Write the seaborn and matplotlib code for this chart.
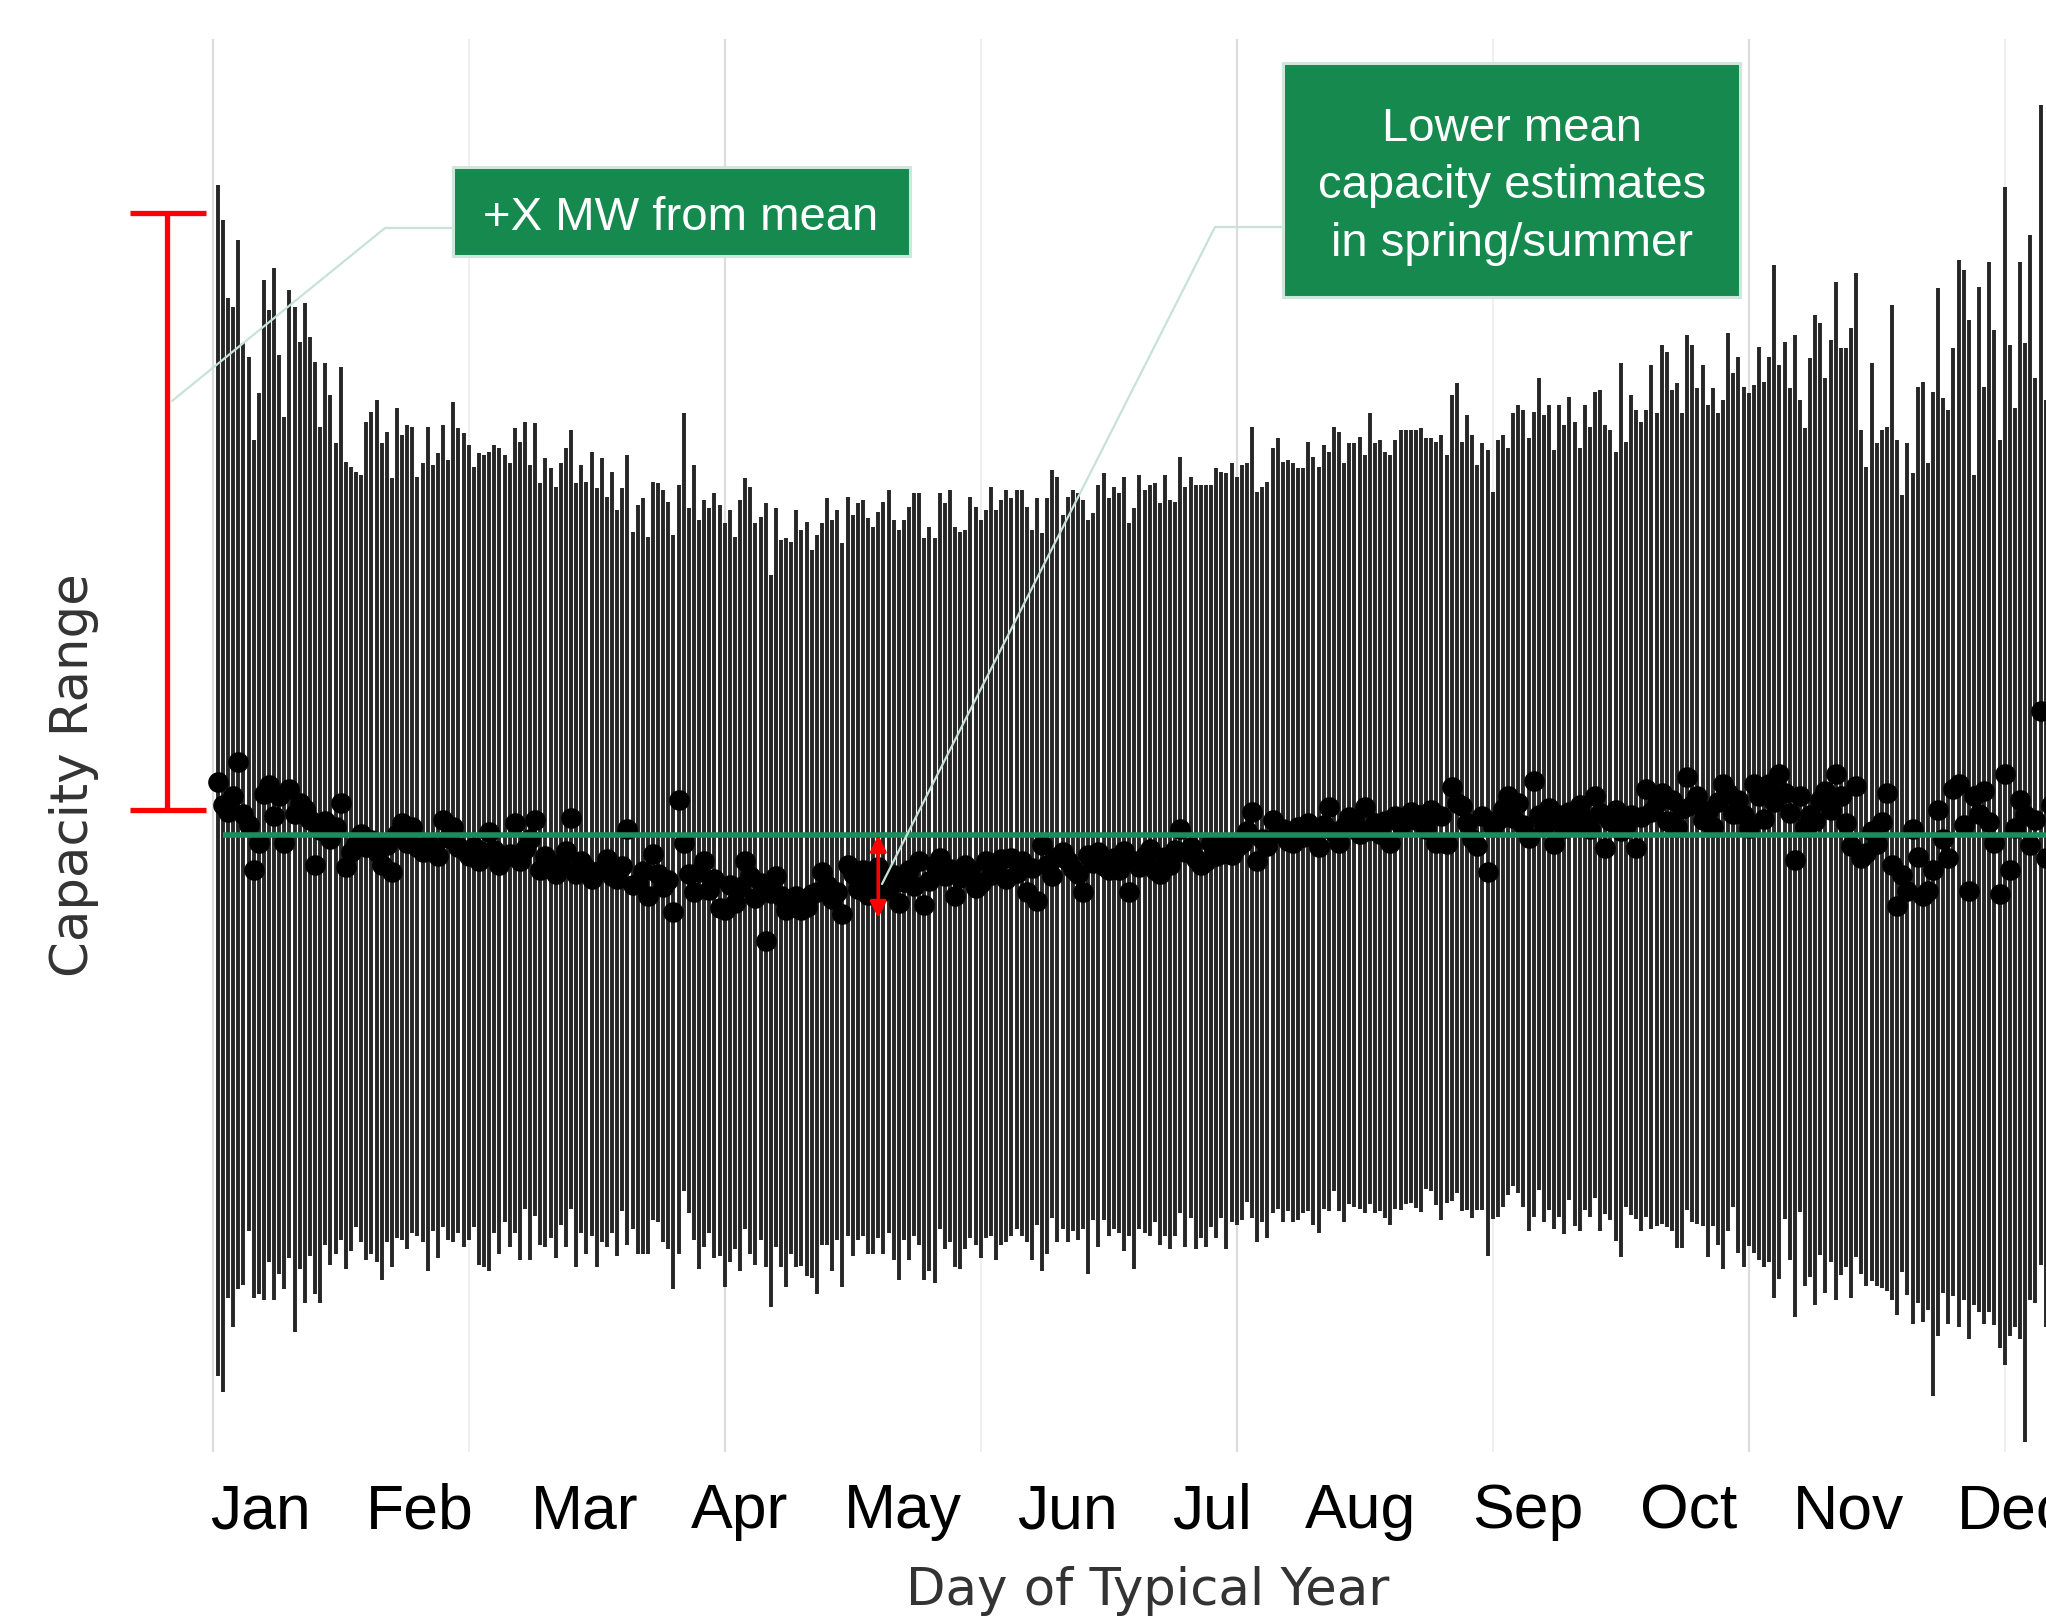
import numpy as np
import pandas as pd
import matplotlib
matplotlib.use("Agg")
import matplotlib.pyplot as plt
from matplotlib.patches import Rectangle
from matplotlib.lines import Line2D
import seaborn as sns

# capacity range per day of the typical year, as offsets from the overall mean
upper = [
    65.0, 61.5, 53.7, 52.8, 59.5, 49.2, 47.8, 39.5, 44.2, 55.5,
    52.5, 56.7, 48.0, 41.8, 54.5, 52.8, 49.3, 53.2, 49.8, 47.3,
    40.8, 47.2, 44.0, 39.2, 46.8, 37.3, 36.8, 36.3, 36.0, 41.3,
    42.3, 43.5, 39.2, 40.3, 35.7, 42.7, 40.0, 41.0, 40.8, 35.8,
    37.2, 40.8, 37.0, 38.2, 41.0, 37.5, 43.3, 40.7, 40.2, 39.0,
    36.8, 38.2, 38.0, 38.3, 39.0, 38.7, 38.0, 37.2, 40.7, 39.3,
    41.3, 37.0, 41.2, 35.2, 37.7, 36.7, 34.8, 37.2, 38.7, 40.5,
    35.2, 37.0, 35.3, 38.3, 34.7, 37.7, 33.8, 36.3, 32.5, 34.7,
    38.0, 30.3, 33.0, 33.7, 29.8, 35.3, 35.2, 34.5, 33.3, 30.0,
    35.0, 42.2, 32.7, 37.0, 31.5, 33.5, 32.7, 34.2, 33.0, 31.2,
    32.5, 29.8, 33.5, 35.7, 34.8, 31.2, 31.8, 33.2, 26.0, 32.7,
    29.5, 29.7, 29.3, 32.5, 30.5, 31.3, 28.5, 30.0, 31.2, 33.7,
    31.5, 32.5, 29.2, 33.8, 32.0, 33.2, 33.5, 31.7, 30.8, 32.3,
    33.3, 34.5, 31.5, 30.5, 31.5, 32.8, 34.2, 34.2, 29.7, 30.8,
    29.7, 34.2, 33.2, 34.5, 30.8, 30.3, 30.5, 33.8, 32.8, 31.5,
    32.5, 34.8, 32.5, 33.5, 34.5, 33.7, 34.5, 34.5, 32.8, 30.5,
    33.7, 30.2, 33.7, 36.5, 35.8, 32.0, 33.8, 34.5, 34.2, 33.5,
    31.5, 32.2, 35.0, 36.2, 33.7, 34.8, 34.2, 35.8, 31.2, 32.7,
    36.0, 34.5, 35.0, 35.2, 33.2, 36.0, 33.5, 33.3, 37.8, 34.8,
    35.8, 35.0, 35.0, 35.0, 35.0, 36.7, 36.3, 36.2, 37.2, 35.8,
    37.0, 37.2, 40.8, 34.3, 34.8, 35.3, 38.7, 39.7, 37.3, 37.5,
    37.2, 36.7, 36.7, 39.3, 37.8, 36.8, 39.0, 38.3, 40.8, 40.3,
    37.2, 39.2, 39.2, 39.8, 38.0, 42.2, 39.2, 39.5, 38.3, 38.0,
    39.5, 40.5, 40.5, 40.5, 40.5, 40.7, 39.7, 39.7, 39.3, 40.0,
    38.0, 44.0, 45.2, 39.3, 42.0, 40.0, 37.0, 39.2, 38.5, 34.3,
    39.5, 40.0, 38.7, 42.2, 43.0, 42.5, 39.7, 42.3, 45.7, 42.0,
    43.0, 38.5, 43.0, 41.0, 43.8, 41.3, 38.7, 43.0, 40.8, 44.3,
    44.5, 41.0, 40.5, 38.3, 47.2, 39.3, 44.0, 42.5, 41.3, 42.5,
    47.0, 42.2, 49.0, 48.3, 44.5, 45.2, 42.2, 50.0, 49.0, 44.7,
    47.0, 43.0, 44.7, 42.2, 43.5, 50.2, 46.2, 47.8, 44.8, 44.2,
    45.0, 48.8, 45.3, 47.8, 57.0, 47.0, 49.3, 44.7, 50.0, 43.5,
    40.7, 47.7, 52.0, 51.2, 45.7, 49.5, 55.3, 48.7, 48.7, 50.7,
    56.2, 40.5, 36.8, 47.2, 39.2, 40.5, 40.8, 53.0, 39.5, 34.0,
    39.2, 36.2, 44.8, 45.3, 37.2, 44.3, 54.7, 43.7, 42.5, 48.7,
    57.5, 56.5, 51.5, 36.0, 54.8, 44.8, 57.3, 50.5, 39.5, 64.8,
    49.0, 42.7, 57.3, 49.2, 60.0, 45.7, 73.0, 43.5, 52.0, 61.0,
    47.0, 55.0, 68.0, 49.0, 53.0,
]

lower = [
    -54.1, -55.7, -46.3, -49.2, -45.4, -45.0, -39.6, -46.3, -45.9, -46.5,
    -42.7, -46.5, -43.9, -45.4, -42.3, -49.7, -43.4, -46.8, -42.1, -45.9,
    -46.8, -41.0, -43.0, -41.9, -40.5, -43.4, -41.6, -39.2, -40.7, -42.5,
    -41.9, -42.7, -44.5, -40.7, -43.2, -40.3, -40.5, -41.4, -39.8, -40.1,
    -40.7, -43.6, -39.6, -42.3, -39.2, -40.5, -40.7, -39.8, -41.2, -40.5,
    -39.2, -43.0, -43.2, -43.6, -39.8, -41.9, -38.7, -41.2, -39.8, -42.5,
    -37.4, -42.5, -38.1, -41.0, -41.2, -40.3, -42.3, -39.0, -41.2, -37.4,
    -43.2, -39.8, -41.9, -40.1, -43.2, -40.7, -41.2, -39.8, -42.1, -37.6,
    -41.0, -39.4, -41.9, -41.9, -41.9, -38.5, -38.7, -40.7, -41.4, -45.4,
    -41.9, -35.6, -37.8, -40.5, -43.4, -41.2, -39.8, -42.3, -42.1, -45.2,
    -42.7, -41.4, -43.6, -39.4, -41.9, -43.0, -40.5, -43.2, -47.2, -41.2,
    -43.2, -45.2, -41.9, -43.2, -43.1, -44.1, -44.3, -45.9, -41.0, -41.0,
    -43.6, -40.5, -45.2, -40.1, -42.1, -40.5, -40.1, -41.9, -41.9, -40.3,
    -41.9, -39.8, -42.5, -44.5, -40.5, -42.5, -40.1, -41.0, -44.5, -43.6,
    -44.8, -39.4, -41.4, -40.7, -43.2, -43.4, -41.4, -40.3, -41.0, -42.3,
    -40.3, -40.1, -42.5, -41.0, -40.7, -40.1, -39.4, -40.1, -40.7, -42.5,
    -39.0, -43.6, -41.9, -38.3, -40.7, -39.4, -40.7, -39.6, -40.5, -39.4,
    -43.9, -38.5, -41.2, -38.5, -40.1, -39.4, -39.8, -41.6, -40.1, -43.4,
    -39.4, -39.8, -40.1, -38.7, -41.0, -40.1, -41.4, -40.1, -37.8, -41.2,
    -38.3, -41.4, -40.3, -41.2, -39.2, -40.3, -38.3, -41.4, -38.7, -39.0,
    -38.5, -36.7, -38.3, -40.7, -38.7, -40.3, -37.8, -37.4, -38.7, -37.6,
    -38.7, -38.5, -37.8, -37.6, -39.0, -39.8, -37.4, -37.6, -35.6, -37.6,
    -38.7, -36.9, -37.2, -37.4, -37.8, -36.9, -37.8, -37.6, -38.3, -39.0,
    -37.4, -37.5, -36.9, -36.8, -37.3, -37.7, -35.4, -35.6, -37.0, -38.5,
    -36.8, -36.6, -35.8, -37.6, -37.5, -38.3, -37.5, -37.5, -42.1, -38.4,
    -38.2, -37.2, -36.0, -35.1, -35.8, -37.2, -39.6, -38.2, -35.5, -38.7,
    -37.5, -39.4, -38.2, -39.9, -36.5, -39.1, -39.6, -37.5, -38.2, -36.3,
    -39.6, -37.9, -38.5, -40.6, -42.2, -37.2, -38.0, -38.4, -39.6, -38.2,
    -39.4, -39.1, -38.9, -39.2, -39.6, -41.3, -41.3, -37.5, -38.7, -38.9,
    -39.1, -42.2, -39.1, -41.0, -43.4, -39.6, -37.2, -41.8, -43.2, -41.1,
    -41.8, -42.5, -43.2, -42.7, -46.3, -44.4, -38.4, -42.5, -48.2, -37.7,
    -45.1, -44.2, -47.0, -42.0, -45.8, -42.7, -46.5, -44.0, -43.2, -46.3,
    -42.2, -43.9, -45.1, -44.6, -45.1, -45.3, -45.6, -46.5, -48.0, -43.7,
    -46.0, -48.9, -46.8, -48.7, -47.5, -56.1, -50.1, -45.8, -48.9, -46.1,
    -49.2, -46.5, -50.4, -47.0, -47.7, -48.9, -47.7, -49.0, -51.3, -53.0,
    -50.1, -49.2, -50.4, -60.7, -46.5, -46.8, -43.0, -49.2, -51.0, -47.5,
    -55.0, -49.0, -52.0, -48.5, -54.0,
]

means = [
    5.3, 3.0, 2.3, 3.9, 7.3, 2.1, 1.0, -3.5, -0.8, 4.1,
    5.0, 1.9, 3.9, -0.8, 4.6, 2.1, 3.2, 2.6, 1.5, -3.0,
    0.5, 1.4, -0.4, 0.8, 3.2, -3.2, -1.7, -0.9, 0.1, -1.2,
    -0.5, -1.7, -3.0, -1.0, -3.7, 0.1, 1.2, -0.8, 0.8, -1.2,
    -1.7, -0.8, -1.5, -2.1, 1.5, -0.3, 0.8, -1.2, -1.5, -2.1,
    -1.2, -2.6, -1.7, 0.3, -1.5, -3.0, -2.2, -1.9, 1.2, -2.6,
    -1.4, -0.4, 1.5, -3.5, -2.1, -2.8, -3.9, -3.0, -1.6, 1.7,
    -3.9, -2.6, -3.3, -4.4, -3.7, -3.5, -2.4, -4.1, -4.4, -3.1,
    0.6, -5.0, -4.8, -3.6, -6.1, -1.9, -3.9, -5.2, -4.5, -7.7,
    3.5, -0.8, -3.9, -5.7, -3.7, -2.6, -5.5, -4.4, -7.3, -7.5,
    -5.0, -6.8, -5.2, -2.6, -4.1, -6.3, -4.8, -10.6, -5.8, -4.1,
    -6.1, -7.5, -6.7, -6.1, -7.5, -7.2, -5.9, -5.7, -3.7, -5.0,
    -6.4, -5.7, -7.9, -3.0, -3.9, -5.4, -3.5, -6.0, -4.4, -3.2,
    -5.6, -5.2, -4.0, -6.8, -4.7, -3.5, -5.1, -2.6, -7.0, -4.6,
    -3.0, -2.3, -4.1, -3.4, -6.1, -4.3, -3.0, -3.5, -5.3, -4.8,
    -2.6, -4.0, -3.5, -2.4, -4.4, -2.3, -3.8, -2.6, -5.7, -3.3,
    -6.6, -1.0, -3.0, -4.1, -2.2, -1.7, -2.6, -3.4, -3.9, -5.7,
    -2.0, -2.8, -1.7, -3.1, -3.5, -2.3, -3.5, -1.6, -5.7, -2.6,
    -3.2, -2.1, -1.4, -3.5, -3.9, -2.2, -3.0, -1.5, 0.6, -1.7,
    -1.2, -2.4, -3.0, -2.6, -0.8, -2.1, -1.9, -0.8, -2.0, -1.2,
    -0.8, 0.4, 2.3, -2.6, -0.4, -1.1, 1.5, 0.2, 0.6, -0.6,
    -0.8, 0.8, -0.2, 1.2, 0.4, -1.2, 1.0, 2.8, 0.3, -0.8,
    0.8, 1.8, 1.5, 0.1, 2.8, 0.5, 1.2, 0.1, 1.4, -0.8,
    1.9, 1.0, 1.8, 2.3, 1.5, 2.0, 0.6, 2.5, -0.8, 1.9,
    -0.9, 4.8, 3.2, 2.9, 1.2, -0.4, -1.1, 1.9, -3.7, 0.8,
    1.5, 2.6, 3.9, 1.7, 3.2, 1.0, -0.3, 5.4, 2.0, 0.9,
    2.7, -0.9, 2.0, 0.7, 2.3, 1.1, 3.0, 1.6, 0.6, 3.9,
    2.2, -1.3, 1.4, 2.5, 0.4, 1.0, 2.0, -1.3, 1.8, 4.6,
    2.3, 3.2, 4.2, 1.4, 3.5, 0.8, 2.6, 5.8, 3.0, 3.9,
    1.5, 2.4, 0.8, 3.3, 5.1, 4.2, 2.1, 3.5, 2.0, 0.7,
    5.1, 3.9, 1.6, 5.1, 3.3, 6.1, 4.2, 2.2, -2.5, 3.9,
    0.8, 2.0, 1.4, 3.5, 4.4, 2.5, 6.1, 3.9, 1.2, -1.1,
    4.9, -2.3, -1.8, 0.4, -0.9, 1.3, 4.2, -3.0, -7.1, -4.0,
    -5.6, 0.6, -2.2, -6.1, -5.6, -3.5, 2.5, -0.4, -2.3, 4.6,
    5.1, 1.0, -5.6, 3.9, 2.1, 4.4, 1.3, -0.8, -5.9, 6.1,
    -3.5, 0.7, 3.5, 2.0, -1.0, 1.5, 12.4, -2.3, 3.0, -1.5,
    4.5, 0.5, 2.8, -4.0, 1.6,
]

mean_line = 0.0
days = list(range(1, 366))

month_names = ["Jan", "Feb", "Mar", "Apr", "May", "Jun",
               "Jul", "Aug", "Sep", "Oct", "Nov", "Dec"]
month_pos = [9.4, 40.5, 72.7, 102.9, 134.8, 167.0,
             195.2, 224.1, 256.9, 288.3, 319.4, 351.6]

df = pd.DataFrame({"day": days, "low": lower, "high": upper, "mean": means})

sns.set_theme(style="white")
plt.rcParams["font.family"] = ["DejaVu Sans"]

W, H = 2046, 1619
fig = plt.figure(figsize=(W / 100, H / 100), dpi=100)
ax = fig.add_axes([171.7 / W, 1 - 1452 / H, (W - 171.7) / W, (1452 - 39) / H])
ax.set_xlim(-8.0, 358.07)
ax.set_ylim(-61.7, 79.6)

# vertical gridlines
for g in [0, 100, 200, 300]:
    ax.axvline(g, color="#dcdcdc", lw=1.6, zorder=0)
for g in [50, 150, 250, 350]:
    ax.axvline(g, color="#efefef", lw=1.4, zorder=0)

# daily range and mean
ax.vlines(df["day"], df["low"], df["high"], color="#262626", lw=2.8, zorder=2)
sns.scatterplot(data=df, x="day", y="mean", ax=ax, color="black", s=220,
                linewidth=0, zorder=3, legend=False)
ax.hlines(mean_line, 2, 365, color="#1f8a5b", lw=4, zorder=4)

# red double arrow in May
ax.annotate("", xy=(130, mean_line - 8.3), xytext=(130, mean_line),
            arrowprops=dict(arrowstyle="<|-|>", color="red", lw=2.6,
                            mutation_scale=24, shrinkA=0, shrinkB=0),
            zorder=5)

ax.set_xticks([])
ax.set_yticks([])
ax.set_xlabel("")
ax.set_ylabel("")
sns.despine(ax=ax, left=True, bottom=True)

for name, pos in zip(month_names, month_pos):
    ax.text(pos, -0.0538, name, transform=ax.get_xaxis_transform(),
            ha="center", va="baseline", fontsize=45, color="black",
            family="Liberation Sans", clip_on=False)


def fx(px):
    return px / W


def fy(py):
    return 1 - py / H


# red bracket on the left
red_kw = dict(color="red", lw=3.8, solid_capstyle="butt", transform=fig.transFigure)
fig.add_artist(Line2D([fx(167), fx(167)], [fy(213), fy(810)], **red_kw))
fig.add_artist(Line2D([fx(130), fx(206)], [fy(213), fy(213)], **red_kw))
fig.add_artist(Line2D([fx(130), fx(206)], [fy(810), fy(810)], **red_kw))

# connector lines
con_kw = dict(color="#c7e2d8", lw=1.6, transform=fig.transFigure, zorder=6)
fig.add_artist(Line2D([fx(453), fx(385), fx(172)], [fy(228), fy(228), fy(401)], **con_kw))
fig.add_artist(Line2D([fx(1283), fx(1215), fx(882)], [fy(227), fy(227), fy(884)], **con_kw))

# annotation boxes
box_kw = dict(transform=fig.transFigure, facecolor="#16894f",
              edgecolor="#cde7dd", lw=2.2, zorder=7)
fig.add_artist(Rectangle((fx(453), fy(256)), (910 - 453) / W, (256 - 167) / H, **box_kw))
fig.add_artist(Rectangle((fx(1283), fy(297)), (1740 - 1283) / W, (297 - 63) / H, **box_kw))

txt_kw = dict(ha="center", va="baseline", color="white", fontsize=34,
              family="Liberation Sans", zorder=8)
fig.text(fx(681), fy(229.6), "+X MW from mean", **txt_kw)
fig.text(fx(1512), fy(140.6), "Lower mean", **txt_kw)
fig.text(fx(1512), fy(198), "capacity estimates", **txt_kw)
fig.text(fx(1512), fy(255.5), "in spring/summer", **txt_kw)

# axis titles
fig.text(fx(1148), fy(1605), "Day of Typical Year", ha="center", va="baseline",
         fontsize=37, color="#333333")
fig.text(fx(74), fy(775), "Capacity Range", ha="center", va="center",
         rotation=90, fontsize=37, color="#333333")

fig.savefig("out.png", dpi=100)
